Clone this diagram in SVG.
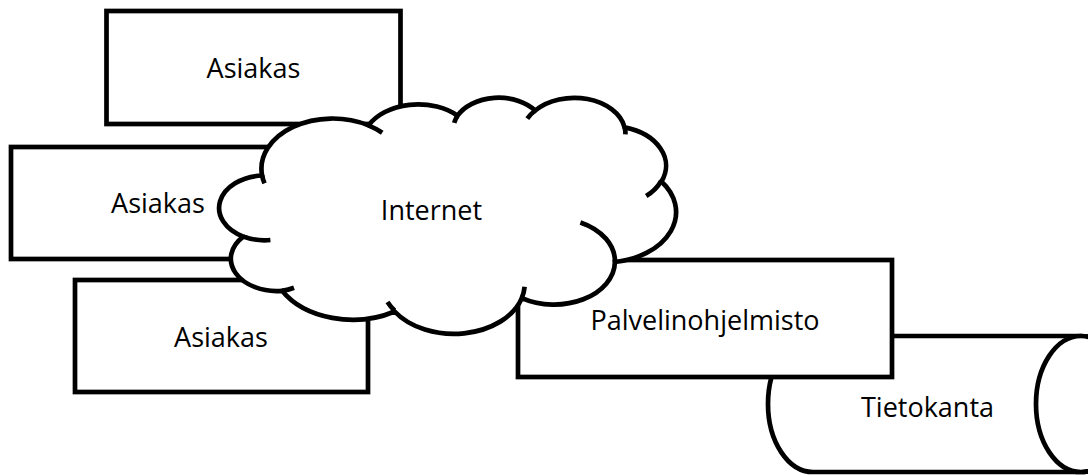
<svg xmlns="http://www.w3.org/2000/svg" width="1088" height="475" viewBox="0 0 1088 475">
<style>
.shape{fill:#fff;stroke:#000;stroke-width:4.7;stroke-linejoin:miter}
.detail{fill:none;stroke:#000;stroke-width:4.7}
.lbl{font-family:"Open Sans","Liberation Sans",sans-serif;font-size:27px;fill:#000;text-anchor:middle}
</style>
<rect width="1088" height="475" fill="#fff"/>
<g id="asiakas1">
<rect class="shape" x="106.5" y="11" width="294" height="113"/>
<text class="lbl" x="253.5" y="78">Asiakas</text>
</g>
<g id="asiakas2">
<rect class="shape" x="11" y="147" width="293" height="112"/>
<text class="lbl" x="158" y="213">Asiakas</text>
</g>
<g id="asiakas3">
<rect class="shape" x="75" y="280" width="293" height="112"/>
<text class="lbl" x="221" y="347">Asiakas</text>
</g>
<g id="tietokanta">
<path class="shape" d="M 813 336 L 1081 336 A 45 68 0 0 1 1081 472 L 813 472 A 45 68 0 0 1 813 336 Z"/>
<ellipse class="shape" cx="1081" cy="404" rx="45" ry="68"/>
<text class="lbl" x="927.5" y="417">Tietokanta</text>
</g>
<g id="palvelinohjelmisto">
<rect class="shape" x="518" y="260" width="374" height="117"/>
<text class="lbl" x="705" y="330">Palvelinohjelmisto</text>
</g>
<g id="internet">
<path class="shape" d="M 262.1 175.5 A 71.1 50.2 0 0 1 368.5 125.4 A 56.2 39.7 0 0 1 457.5 115.7 A 46 32.5 0 0 1 535.2 110.5 A 51.2 36 0 0 1 624.6 127.4 A 56.2 39.7 0 0 1 661.4 181.5 A 71.4 50.4 0 0 1 614.9 262 A 60.9 43 0 0 1 521.8 298.1 A 71.1 50.3 0 0 1 394.6 311.5 A 81.3 57.6 0 0 1 282.1 290.8 A 45.9 32.3 0 0 1 243.3 236.6 A 45.8 32.5 0 0 1 262.1 175.5 Z"/>
<path class="detail" d="M 270.4 240 A 45.8 32.5 0 0 1 243.3 236.6 M 294 287.7 A 45.9 32.3 0 0 1 282.1 290.8 M 394.5 310.5 A 71.1 50.3 0 0 1 387.5 302 M 524.6 286.8 A 71.1 50.3 0 0 1 521.8 298.1 M 580.4 222.4 A 60.9 43 0 0 1 614.9 262 M 661.2 180.9 A 56.2 39.7 0 0 1 646.2 196.1 M 624.6 126.6 A 51.2 36 0 0 1 625.4 134.4 M 527.3 118.6 A 51.2 36 0 0 1 535.2 110.5 M 454.2 122.8 A 46 32.5 0 0 1 457.5 115.7 M 368.4 125.4 A 71.1 50.2 0 0 1 382.2 132.8 M 264.5 183.3 A 71.1 50.2 0 0 1 262.1 175.5"/>
<text class="lbl" x="431.5" y="220">Internet</text>
</g>
</svg>
